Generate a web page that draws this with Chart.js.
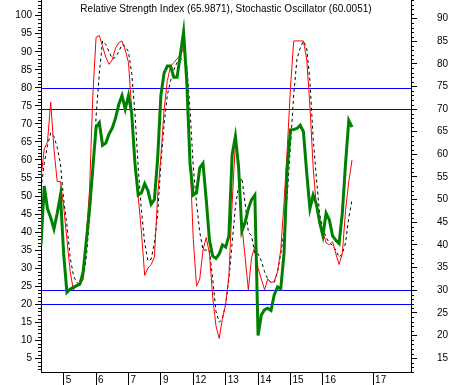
<!DOCTYPE html>
<html>
<head>
<script src="https://cdnjs.cloudflare.com/ajax/libs/Chart.js/4.4.1/chart.umd.min.js"></script>
<style>body{margin:0;background:#fff}</style>
<script>

var titleText = 'Relative Strength Index (65.9871), Stochastic Oscillator (60.0051)';

// bottom axis labels and where they sit (bar index)
var tickText = ['5', '6', '7', '9', '12', '13', '14', '15', '16', '17'];
var tickPos = [7, 17, 27, 37, 47, 57, 67, 77, 87, 102.5];

var leftTicks = [5, 10, 15, 20, 25, 30, 35, 40, 45, 50, 55, 60, 65, 70, 75, 80, 85, 90, 95, 100];
var rightTicks = [15, 20, 25, 30, 35, 40, 45, 50, 55, 60, 65, 70, 75, 80, 85, 90];

var stochLevels = [80, 20];
var rsiLevels = [70, 30];

// RSI, read on the right axis
var rsi = [40, 53, 48, 46, 43.5, 47, 51, 38, 29.5, 30.2,
  30.6, 31, 31.3, 34, 41, 48, 57, 66, 67, 62,
  62.5, 64.5, 65.8, 68, 71, 73, 70, 73, 69, 58,
  51, 51.5, 53.5, 52, 49, 50, 59, 73, 78, 79.5,
  79.5, 77, 77, 82, 87, 76, 58, 51, 51.5, 57,
  58, 50, 41, 37.5, 37, 38, 40, 39.5, 42, 60,
  64, 57, 43, 45, 48, 50, 51, 20, 24.5, 25.7,
  26, 25.5, 29, 30.7, 30.3, 38, 57, 65.4, 65.5, 65.7,
  66.4, 65, 56, 48, 51, 49, 45, 42, 47, 45.5,
  42, 41, 40.3, 47, 58, 67.5, 66];

// stochastic %K (red) and %D (dashed), left axis
var stochK = [55, 63, 65, 76, 63, 54, 54, 47, 38, 29,
  24, 25.3, 25.8, 26.7, 39, 52, 78, 94, 94.5, 91.5,
  88.5, 86.5, 87.8, 91, 92.5, 93, 90.5, 87, 74, 59,
  50, 40, 28, 30, 31, 33, 50, 61, 74, 82,
  86, 87, 88, 89, 91, 85, 60, 38, 25, 27,
  35, 38.5, 34, 22, 14, 10.5, 16, 20, 28, 48,
  65, 60, 42, 33, 24, 33, 36, 30, 27, 24,
  27, 26, 26.3, 29, 35, 48, 63, 80, 93, 93,
  93, 93, 88, 75, 58, 47, 43, 40, 37, 36.5,
  37.3, 34, 31, 34, 46, 54, 60];

var stochD = [52, 59, 64, 67.5, 66.5, 63.5, 59, 49, 42, 33,
  28, 26, 25.5, 27, 33, 44, 56, 72, 84, 93,
  92, 90, 88, 88.5, 90, 92, 91.5, 90, 84, 73,
  58, 46, 37, 32, 32.5, 37, 45, 59, 70, 78,
  82, 85, 87, 88, 88, 86, 74, 58, 48, 40,
  35, 35, 35, 27, 18, 15, 16, 20, 27, 37,
  47, 53, 55, 48, 40, 39, 34, 34, 32, 29,
  27, 26, 26, 29, 34, 40, 50, 64, 78, 88,
  91, 93, 91, 82, 66, 55, 45, 41, 38.5, 37,
  36.3, 35, 33, 34, 37, 44, 49];

var extras = {
  id: 'extras',
  beforeDatasetsDraw(chart) {
    let ctx = chart.ctx, a = chart.chartArea;
    ctx.save();
    ctx.strokeStyle = '#0000ff';
    ctx.lineWidth = 1;
    ctx.beginPath();
    stochLevels.forEach(v => {
      let py = Math.round(chart.scales.y.getPixelForValue(v)) + 0.5;
      ctx.moveTo(a.left, py); ctx.lineTo(a.right, py);
    });
    rsiLevels.forEach(v => {
      let py = Math.round(chart.scales.y2.getPixelForValue(v)) + 0.5;
      ctx.moveTo(a.left, py); ctx.lineTo(a.right, py);
    });
    ctx.stroke();
    ctx.restore();
  },
  afterDraw(chart) {
    let ctx = chart.ctx, a = chart.chartArea;
    ctx.save();
    // minor ticks every unit
    ctx.strokeStyle = '#000';
    ctx.lineWidth = 1;
    ctx.beginPath();
    let l = chart.scales.y, r = chart.scales.y2;
    for (let v = Math.ceil(l.min); v <= l.max; v++) {
      if (v % 5 === 0) continue;
      let py = Math.round(l.getPixelForValue(v)) + 0.5;
      ctx.moveTo(a.left - 3, py); ctx.lineTo(a.left, py);
    }
    for (let v = Math.ceil(r.min); v <= r.max; v++) {
      if (v % 5 === 0) continue;
      let py = Math.round(r.getPixelForValue(v)) + 0.5;
      ctx.moveTo(a.right, py); ctx.lineTo(a.right + 3, py);
    }
    ctx.stroke();
    ctx.fillStyle = '#000';
    ctx.font = '10px "Liberation Sans"';
    ctx.textAlign = 'center';
    ctx.textBaseline = 'middle';
    ctx.fillText(titleText, (a.left + a.right) / 2, 9);
    ctx.restore();
  }
};

function noPad(s) {
  s.paddingTop = 0; s.paddingBottom = 0; s.paddingLeft = 0; s.paddingRight = 0;
}

function drawChart() {
  Chart.defaults.font.family = '"Liberation Sans", Arial, sans-serif';
  Chart.defaults.font.size = 10;
  Chart.defaults.color = '#000';
  var ctx = document.getElementById('canvas').getContext('2d');
  window.myChart = new Chart(ctx, {
    type: 'line',
    data: {
      labels: stochK.map((v, i) => i),
      datasets: [
        { label: 'RSI', data: rsi, yAxisID: 'y2', borderColor: '#008000', borderWidth: 3, pointRadius: 0, fill: false },
        { label: '%K', data: stochK, yAxisID: 'y', borderColor: '#ff0000', borderWidth: 1, pointRadius: 0, fill: false },
        { label: '%D', data: stochD, yAxisID: 'y', borderColor: '#000000', borderWidth: 1, borderDash: [3, 3], pointRadius: 0, fill: false }
      ]
    },
    options: {
      responsive: false,
      animation: false,
      layout: { padding: 0 },
      plugins: { legend: { display: false }, tooltip: { enabled: false } },
      scales: {
        x: {
          type: 'linear', min: 0, max: 114.2,
          afterBuildTicks: s => { s.ticks = tickPos.map(v => ({ value: v })); },
          afterFit: s => { s.height = 13; noPad(s); },
          ticks: { autoSkip: false, maxRotation: 0, align: 'start', labelOffset: 2, padding: -11,
            callback: (v, i) => tickText[i] },
          grid: { drawOnChartArea: false, tickLength: 13, color: '#000' },
          border: { color: '#000' }
        },
        y: {
          position: 'left', min: 1.2, max: 104.35,
          afterBuildTicks: s => { s.ticks = leftTicks.map(v => ({ value: v })); },
          afterFit: s => { s.width = 41; noPad(s); },
          ticks: { padding: 3 },
          grid: { drawOnChartArea: false, tickLength: 6, color: '#000' },
          border: { color: '#000' }
        },
        y2: {
          position: 'right', min: 11.92, max: 94.09,
          afterBuildTicks: s => { s.ticks = rightTicks.map(v => ({ value: v })); },
          afterFit: s => { s.width = 40; noPad(s); },
          ticks: { padding: 20 },
          grid: { drawOnChartArea: false, tickLength: 6, color: '#000' },
          border: { color: '#000' }
        }
      }
    },
    plugins: [extras]
  });
}
window.addEventListener('load', drawChart);
</script>
</head>
<body>
  <canvas id="canvas" width="451" height="385"></canvas>
</body>
</html>
